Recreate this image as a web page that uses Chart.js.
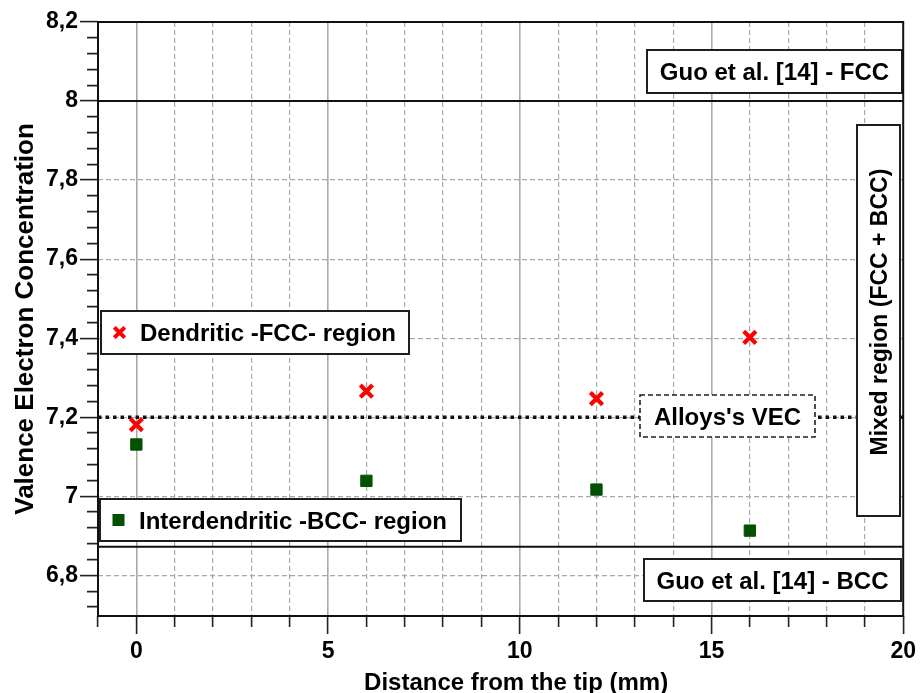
<!DOCTYPE html>
<html>
<head>
<meta charset="utf-8">
<title>Valence Electron Concentration vs distance</title>
<script src="https://cdn.jsdelivr.net/npm/chart.js@4.4.1/dist/chart.umd.min.js"></script>
<style>
  html, body { margin: 0; padding: 0; background: #fff; }
  #wrap { width: 920px; height: 693px; }
</style>
</head>
<body>
<div id="wrap"><canvas id="chart" width="920" height="693"></canvas></div>
<script>
// ===== data =====
const distance = [0, 6, 12, 16];
const vecDendritic = [7.181, 7.266, 7.247, 7.402];
const vecInterdendritic = [7.131, 7.039, 7.017, 6.913];
const seriesNames = ['Dendritic -FCC- region', 'Interdendritic -BCC- region'];
const guoFcc = 8.0;
const guoBcc = 6.872;
const alloyVec = 7.2;
const xRange = [-1, 20];
const yRange = [6.697, 8.2];
const xTickValues = [0, 5, 10, 15, 20];
const xTickLabels = ['0', '5', '10', '15', '20'];
const yTickValues = [6.8, 7.0, 7.2, 7.4, 7.6, 7.8, 8.0, 8.2];
const yTickLabels = ['6,8', '7', '7,2', '7,4', '7,6', '7,8', '8', '8,2'];

// ===== look =====
const FONT = '"Liberation Sans", Arial, sans-serif';
const RED = '#ff0000';
const GREEN = '#005200';
const GRID = '#a9a9a9';
const TICK = '#222';

function isIn(v, list) { return list.some(t => Math.abs(t - v) < 1e-6); }
function labelFor(v, values, labels) {
  const i = values.findIndex(t => Math.abs(t - v) < 1e-6);
  return i < 0 ? '' : labels[i];
}
function pts(xs, ys) { return xs.map((x, i) => ({x: x, y: ys[i]})); }
function hline(v) { return [{x: xRange[0], y: v}, {x: xRange[1], y: v}]; }

// annotation boxes, placed in data units
const textBoxes = [
  {text: 'Guo et al. [14] - FCC', x: [13.33, 19.97], y: [8.020, 8.128]},
  {text: 'Guo et al. [14] - BCC', x: [13.24, 19.94], y: [6.734, 6.842]},
  {text: "Alloys's VEC", x: [13.14, 17.70], y: [7.149, 7.257], dashed: true},
  {text: 'Mixed region (FCC + BCC)', x: [18.80, 19.91], y: [6.95, 7.939], vertical: true, textY: 7.466, size: 23}
];
const legendBoxes = [
  {series: 0, x: [-0.912, 7.12], y: [7.361, 7.469]},
  {series: 1, x: [-0.938, 8.47], y: [6.887, 6.993]}
];

function drawMarker(ctx, series, cx, cy) {
  ctx.save();
  if (series === 0) {
    const r = 5.2;
    ctx.strokeStyle = RED; ctx.lineWidth = 4;
    ctx.beginPath();
    ctx.moveTo(cx - r, cy - r); ctx.lineTo(cx + r, cy + r);
    ctx.moveTo(cx + r, cy - r); ctx.lineTo(cx - r, cy + r);
    ctx.stroke();
  } else {
    ctx.fillStyle = GREEN;
    ctx.fillRect(cx - 6, cy - 6, 12, 12);
  }
  ctx.restore();
}

function rectPx(sx, sy, b) {
  const l = Math.round(sx.getPixelForValue(b.x[0]));
  const r = Math.round(sx.getPixelForValue(b.x[1]));
  const t = Math.round(sy.getPixelForValue(b.y[1]));
  const bt = Math.round(sy.getPixelForValue(b.y[0]));
  return {l, r, t, b: bt};
}

function drawBox(ctx, p, dashed) {
  ctx.save();
  ctx.fillStyle = '#fff';
  ctx.fillRect(p.l, p.t, p.r - p.l, p.b - p.t);
  ctx.strokeStyle = '#1e1e1e';
  ctx.lineWidth = dashed ? 1.6 : 2;
  if (dashed) ctx.setLineDash([5, 3]);
  ctx.strokeRect(p.l, p.t, p.r - p.l, p.b - p.t);
  ctx.restore();
}

const annotations = {
  id: 'annotations',
  afterDatasetsDraw(chart) {
    const {ctx, chartArea: a, scales: {x, y}} = chart;

    textBoxes.forEach(b => {
      const p = rectPx(x, y, b);
      drawBox(ctx, p, b.dashed);
      const size = b.size || 24;
      ctx.save();
      ctx.fillStyle = '#000';
      ctx.font = 'bold ' + size + 'px ' + FONT;
      ctx.textAlign = 'center';
      ctx.textBaseline = 'alphabetic';
      if (b.vertical) {
        ctx.translate((p.l + p.r) / 2, y.getPixelForValue(b.textY));
        ctx.rotate(-Math.PI / 2);
        ctx.fillText(b.text, 0, size * 0.358);
      } else {
        ctx.fillText(b.text, (p.l + p.r) / 2, (p.t + p.b) / 2 + size * 0.358);
      }
      ctx.restore();
    });

    legendBoxes.forEach(b => {
      const p = rectPx(x, y, b);
      drawBox(ctx, p, false);
      const cy = (p.t + p.b) / 2;
      drawMarker(ctx, b.series, p.l + 18.5, cy);
      ctx.save();
      ctx.fillStyle = '#000';
      ctx.font = 'bold 24px ' + FONT;
      ctx.textAlign = 'left';
      ctx.textBaseline = 'alphabetic';
      ctx.fillText(seriesNames[b.series], p.l + 39, cy + 24 * 0.358);
      ctx.restore();
    });

    // frame around the plot area
    ctx.save();
    ctx.strokeStyle = '#111';
    ctx.lineWidth = 2;
    ctx.strokeRect(a.left, a.top, a.right - a.left, a.bottom - a.top);
    ctx.restore();

    // x axis title (sits a little right of centre in the original)
    ctx.save();
    ctx.fillStyle = '#000';
    ctx.font = 'bold 24px ' + FONT;
    ctx.textAlign = 'center';
    ctx.textBaseline = 'alphabetic';
    ctx.fillText('Distance from the tip (mm)', (a.left + a.right) / 2 + 15.5, chart.height - 3);
    ctx.restore();
  }
};

const tickFont = {family: FONT, size: 23, weight: 'bold'};

new Chart(document.getElementById('chart'), {
  type: 'scatter',
  data: {
    datasets: [
      {label: seriesNames[0], data: pts(distance, vecDendritic), order: 0,
        pointStyle: 'crossRot', pointRadius: 8.6, pointBorderWidth: 4.2, borderColor: RED, backgroundColor: RED},
      {label: seriesNames[1], data: pts(distance, vecInterdendritic), order: 0,
        pointStyle: 'rect', pointRadius: 8, pointBorderWidth: 1, borderColor: GREEN, backgroundColor: GREEN},
      {type: 'line', label: 'Guo FCC', data: hline(guoFcc), order: 1,
        borderColor: '#111', borderWidth: 2, pointRadius: 0},
      {type: 'line', label: 'Guo BCC', data: hline(guoBcc), order: 1,
        borderColor: '#111', borderWidth: 2, pointRadius: 0},
      {type: 'line', label: "Alloys's VEC", data: hline(alloyVec), order: 1,
        borderColor: '#111', borderWidth: 3.5, borderDash: [3.5, 4], borderCapStyle: 'butt', pointRadius: 0}
    ]
  },
  options: {
    responsive: false,
    animation: false,
    devicePixelRatio: 1,
    layout: {padding: {top: 22, right: 15, left: 0, bottom: 0}},
    plugins: {legend: {display: false}, tooltip: {enabled: false}},
    scales: {
      x: {
        type: 'linear', position: 'bottom', min: xRange[0], max: xRange[1],
        afterFit: s => { s.height = 77; },
        ticks: {stepSize: 1, autoSkip: false, maxRotation: 0, padding: 4, color: '#000', font: tickFont,
          callback: v => labelFor(v, xTickValues, xTickLabels)},
        grid: {
          color: c => (!c.tick || isIn(c.tick.value, xTickValues) || c.tick.value === xRange[0]) ? 'transparent' : GRID,
          lineWidth: 1.2, tickLength: 18, tickColor: TICK, tickWidth: 1.6,
          tickBorderDash: c => (c.tick && isIn(c.tick.value, xTickValues)) ? [] : [11, 40]
        },
        border: {display: false, dash: [5, 3]}
      },
      xMajor: {
        type: 'linear', position: 'top', min: xRange[0], max: xRange[1], display: true,
        ticks: {stepSize: 5, display: false},
        grid: {
          color: c => (c.tick && isIn(c.tick.value, xTickValues) && c.tick.value < xRange[1]) ? GRID : 'transparent',
          lineWidth: 1.6, drawTicks: false
        },
        border: {display: false}
      },
      y: {
        type: 'linear', min: yRange[0], max: yRange[1],
        afterFit: s => { s.width = 98; },
        ticks: {stepSize: 0.04, precision: 2, includeBounds: false, autoSkip: false, padding: 2,
          color: '#000', font: tickFont,
          callback: v => labelFor(v, yTickValues, yTickLabels)},
        grid: {
          color: c => (c.tick && isIn(c.tick.value, yTickValues)) ? GRID : 'transparent',
          lineWidth: 1.2, tickLength: 18, tickColor: TICK, tickWidth: 1.6,
          tickBorderDash: c => (c.tick && isIn(c.tick.value, yTickValues)) ? [] : [0, 7, 11, 40]
        },
        border: {display: false, dash: [5, 3]},
        title: {display: true, text: 'Valence Electron Concentration', color: '#000',
          font: {family: FONT, size: 26, weight: 'bold'}, padding: {top: 10, bottom: 0}}
      }
    }
  },
  plugins: [annotations]
});
</script>
</body>
</html>
